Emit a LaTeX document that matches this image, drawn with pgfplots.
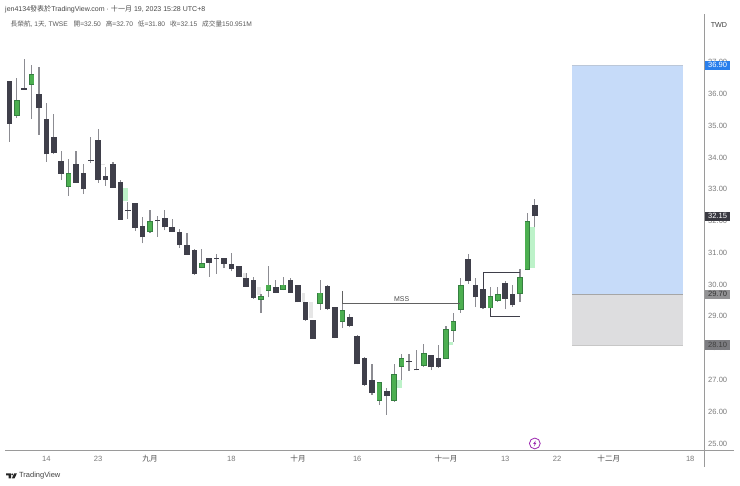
\documentclass[border=0pt]{standalone}
\usepackage{pgfplots}
\usepackage{pgfplotstable}
\usepackage{fontspec}
\pgfplotsset{compat=1.18}
\setmainfont{Liberation Sans}
\newfontfamily\cjk{Noto Sans CJK TC}
\definecolor{cdark}{HTML}{3F3F4A}
\definecolor{cgreenb}{HTML}{357F40}
\definecolor{cgreen}{HTML}{4CAF50}
\definecolor{cwick}{HTML}{8C8C92}
\definecolor{cfvg}{HTML}{BDF2C9}
\definecolor{cgho}{HTML}{E6E6E6}
\definecolor{cblue}{HTML}{C6DBF9}
\definecolor{cgrey}{HTML}{DDDDDF}
\definecolor{ctick}{HTML}{7A7A7A}
\definecolor{caxis}{HTML}{9A9A9A}
\pgfplotstableread{
i t b h l
0 36.41 35.06 36.41 34.50
2 36.18 36.14 37.10 36.13
4 36.01 35.55 36.86 34.71
5 35.20 34.10 35.71 33.87
6 34.66 34.13 35.36 34.11
7 33.90 33.49 34.21 33.29
9 33.81 33.20 34.21 33.20
10 33.50 33.00 33.79 32.85
11 33.93 33.89 34.66 33.82
12 34.55 33.29 34.90 33.21
13 33.41 33.29 33.71 33.11
14 33.81 33.05 33.85 33.05
15 33.24 32.04 33.28 32.04
16 32.35 32.31 32.61 32.06
17 32.56 31.79 32.56 31.68
18 31.85 31.49 32.14 31.30
20 32.04 32.00 32.16 31.50
21 32.11 31.80 32.35 31.71
22 31.81 31.65 32.06 31.65
23 31.66 31.24 31.75 31.16
24 31.25 30.94 31.62 30.94
25 31.10 30.33 31.12 30.31
27 30.85 30.69 30.85 30.25
28 30.85 30.81 30.95 30.34
29 30.85 30.65 30.85 30.51
30 30.65 30.48 31.00 30.42
31 30.60 30.25 30.60 30.25
32 30.21 29.94 30.38 29.94
33 30.15 29.59 30.23 29.56
36 29.93 29.75 30.15 29.73
38 30.15 29.75 30.20 29.75
39 30.00 29.44 30.00 29.44
40 29.44 28.89 29.44 28.87
41 28.90 28.29 28.90 28.29
43 29.95 29.23 29.99 29.21
44 29.30 28.33 29.30 28.31
46 28.99 28.70 29.07 28.66
47 28.39 27.49 28.42 27.49
48 27.69 26.84 27.73 26.81
49 27.00 26.59 27.49 26.53
51 26.64 26.49 26.74 25.90
54 27.59 27.55 27.81 27.29
55 27.34 27.30 27.94 27.30
57 27.79 27.40 27.79 27.31
58 27.69 27.40 28.10 27.37
62 30.81 30.10 30.96 30.02
63 29.99 29.60 30.20 29.29
64 29.85 29.25 29.85 29.23
67 30.05 29.56 30.11 29.22
68 29.70 29.35 29.99 29.31
71 32.50 32.15 32.70 31.80
}\darkc
\pgfplotstableread{
i t b h l
1 35.81 35.31 36.50 35.24
3 36.62 36.29 36.91 35.21
8 33.50 33.08 33.95 32.80
19 32.00 31.65 32.35 31.62
26 30.68 30.53 31.11 30.51
34 29.64 29.51 29.70 29.10
35 30.00 29.80 30.59 29.60
37 30.00 29.84 30.25 29.83
42 29.75 29.39 30.15 29.21
45 29.20 28.83 29.41 28.63
50 26.93 26.35 26.93 26.21
52 27.19 26.35 27.49 26.32
53 27.69 27.40 27.81 27.00
56 27.84 27.45 28.14 27.41
59 28.60 27.65 28.70 27.65
60 28.85 28.55 29.10 28.20
61 29.99 29.20 30.20 29.12
65 29.64 29.25 29.93 29.25
66 29.70 29.49 29.93 29.46
69 30.24 29.70 30.48 29.45
70 31.99 30.46 32.25 30.46
}\greenc
\begin{document}
\begin{tikzpicture}[x=1bp,y=1bp]
\path[use as bounding box] (0,0) rectangle (740,486);
\begin{axis}[
  at={(5bp,35.5bp)},anchor=south west,
  scale only axis,width=699.5bp,height=436.5bp,
  xmin=-0.595,xmax=93.93,ymin=24.779,ymax=38.518,
  clip=false,
  axis x line*=bottom,axis y line*=right,
  axis line style={draw=caxis,line width=1bp,-},
  tick style={draw=none},
  ytick={25,26,27,28,29,30,31,32,33,34,35,36,37},
  yticklabel style={font=\fontsize{7.6}{9}\selectfont,text=ctick,anchor=center,xshift=13.2bp,
     /pgf/number format/.cd,fixed,fixed zerofill,precision=2,assume math mode=true},
  xtick={5,12,19,30,39,47,59,67,74,81,92},
  xticklabels={14,23,{\textcolor{black!70}{\cjk 九月}},18,{\textcolor{black!70}{\cjk 十月}},16,{\textcolor{black!70}{\cjk 十一月}},13,22,{\textcolor{black!70}{\cjk 十二月}},18},
  xticklabel style={font=\fontsize{7.6}{9}\selectfont,text=ctick,anchor=center,yshift=-8.5bp},
]
% position zones
\addplot[fill=cblue,draw=none,forget plot] coordinates {(76,36.90)(91,36.90)(91,29.70)(76,29.70)} -- cycle;
\addplot[fill=cgrey,draw=none,forget plot] coordinates {(76,29.70)(91,29.70)(91,28.10)(76,28.10)} -- cycle;
\addplot[draw=cblue!80!black!70,line width=0.6bp,forget plot] coordinates {(76,36.90)(91,36.90)};
\addplot[draw=black!35,line width=0.6bp,forget plot] coordinates {(76,29.70)(91,29.70)};
\addplot[draw=black!22,line width=0.6bp,forget plot] coordinates {(76,28.10)(91,28.10)};
% imbalance zones
\addplot[fill=cfvg,draw=none,forget plot] coordinates {(15.31,33.05)(15.99,33.05)(15.99,32.63)(15.31,32.63)} -- cycle;
\addplot[fill=cfvg,draw=none,forget plot] coordinates {(52.42,27.00)(53.01,27.00)(53.01,26.75)(52.42,26.75)} -- cycle;
\addplot[fill=cfvg,draw=none,forget plot] coordinates {(59.45,28.20)(59.99,28.20)(59.99,28.10)(59.45,28.10)} -- cycle;
\addplot[fill=cfvg,draw=none,forget plot] coordinates {(70.39,31.80)(71.03,31.80)(71.03,30.52)(70.39,30.52)} -- cycle;
\addplot[fill=cgho,draw=none,forget plot] coordinates {(39.5,29.75)(39.95,29.75)(39.95,29.46)(39.5,29.46)} -- cycle;
\addplot[fill=cgho,draw=none,forget plot] coordinates {(40.49,29.44)(40.99,29.44)(40.99,28.94)(40.49,28.94)} -- cycle;
\addplot[fill=cgho,draw=none,forget plot] coordinates {(33.5,29.93)(33.96,29.93)(33.96,29.67)(33.5,29.67)} -- cycle;
\addplot[fill=cgho,draw=none,forget plot] coordinates {(31.5,30.38)(31.96,30.38)(31.96,30.21)(31.5,30.21)} -- cycle;
\addplot[fill=cgho,draw=none,forget plot] coordinates {(12.4,33.81)(12.95,33.81)(12.95,33.75)(12.4,33.75)} -- cycle;
% wicks
\addplot[draw=none,forget plot,error bars/.cd,y dir=plus,y explicit,error mark=none,error bar style={draw=cwick,line width=1.1bp}]
  table[x=i,y=l,y error plus expr=\thisrow{h}-\thisrow{l}] {\darkc};
\addplot[draw=none,forget plot,error bars/.cd,y dir=plus,y explicit,error mark=none,error bar style={draw=cwick,line width=1.1bp}]
  table[x=i,y=l,y error plus expr=\thisrow{h}-\thisrow{l}] {\greenc};
% bodies
\addplot[draw=none,forget plot,error bars/.cd,y dir=plus,y explicit,error mark=none,error bar style={draw=cdark,line width=5.6bp}]
  table[x=i,y=b,y error plus expr=\thisrow{t}-\thisrow{b}] {\darkc};
\addplot[draw=none,forget plot,error bars/.cd,y dir=plus,y explicit,error mark=none,error bar style={draw=cgreenb,line width=5.6bp}]
  table[x=i,y=b,y error plus expr=\thisrow{t}-\thisrow{b}] {\greenc};
\addplot[draw=none,forget plot,error bars/.cd,y dir=plus,y explicit,error mark=none,error bar style={draw=cgreen,line width=4.1bp}]
  table[x=i,y expr=\thisrow{b}+0.025,y error plus expr=\thisrow{t}-\thisrow{b}-0.05] {\greenc};
% annotations
\addplot[draw=black!62,line width=0.8bp,forget plot] coordinates {(45,29.8)(45,29.41)(60.9,29.41)};
\addplot[draw=cdark,line width=0.9bp,forget plot] coordinates {(64,29.87)(64,30.37)(69,30.37)};
\addplot[draw=cdark,line width=0.9bp,forget plot] coordinates {(65,29.26)(65,28.99)(69,28.99)};
\node[font=\fontsize{7}{8}\selectfont,text=black!70,anchor=south,inner sep=0.5bp] at (axis cs:53,29.45) {MSS};
\coordinate (pb1) at (axis cs:95.69,36.90);
\coordinate (pb2) at (axis cs:95.69,32.15);
\coordinate (pb3) at (axis cs:95.69,29.70);
\coordinate (pb4) at (axis cs:95.69,28.10);
\coordinate (fl) at (axis cs:71,25.00);
\end{axis}
% axis extensions
\draw[caxis,line width=1bp] (704.5,35.5) -- (734,35.5);
\draw[caxis,line width=1bp] (704.5,19) -- (704.5,35.5);
% price tags
\tikzset{tag/.style={minimum width=25bp,minimum height=9.2bp,inner sep=0pt,font=\fontsize{7.6}{9}\selectfont}}
\node[tag,fill={rgb,255:red,42;green,127;blue,236},text=white] at (pb1) {36.90};
\node[tag,fill={rgb,255:red,58;green,58;blue,66},text=white] at (pb2) {32.15};
\node[tag,fill={rgb,255:red,146;green,146;blue,148},text=black!80] at (pb3) {29.70};
\node[tag,fill={rgb,255:red,124;green,124;blue,128},text=black!75] at (pb4) {28.10};
\node[font=\fontsize{7.2}{9}\selectfont,text=black!75] at (719,486-24.7) {TWD};
% lightning flag
\draw[draw={rgb,255:red,156;green,39;blue,176},line width=0.8bp,fill=white] (fl) circle (5.4bp);
\fill[fill={rgb,255:red,156;green,39;blue,176}] ([shift={(0.9bp,3bp)}]fl) -- ([shift={(-1.6bp,-0.4bp)}]fl) -- ([shift={(-0.1bp,-0.4bp)}]fl) -- ([shift={(-0.9bp,-3bp)}]fl) -- ([shift={(1.6bp,0.6bp)}]fl) -- ([shift={(0.1bp,0.6bp)}]fl) -- cycle;
% header
\node[anchor=west,inner sep=0pt,font=\fontsize{7.05}{9}\selectfont,text=black!72] at (5,486-9)
  {jen4134{\cjk 發表於}TradingView.com · {\cjk 十一月} 19, 2023 15:28 UTC+8};
\node[anchor=west,inner sep=0pt,font=\fontsize{6.7}{9}\selectfont,text=black!65] at (10.5,486-24.3)
  {{\cjk 長榮航}, 1{\cjk 天}, TWSE\hspace{4bp} {\cjk 開}=32.50\hspace{3bp} {\cjk 高}=32.70\hspace{3bp} {\cjk 低}=31.80\hspace{3bp} {\cjk 收}=32.15\hspace{3bp} {\cjk 成交量}150.951M};
% logo
\fill[black!85] (6,486-473.3) -- (11,486-473.3) -- (11,486-478.3) -- (8.5,486-478.3) -- (8.5,486-475.4) -- (6,486-475.4) -- cycle;
\fill[black!85] (12.2,486-474.4) circle (1.05bp);
\fill[black!85] (14.2,486-473.3) -- (16.9,486-473.3) -- (14.6,486-478.3) -- (11.9,486-478.3) -- cycle;
\node[anchor=west,inner sep=0pt,font=\fontsize{7.5}{9}\selectfont,text=black!75] at (19,486-476) {TradingView};
\end{tikzpicture}
\end{document}
